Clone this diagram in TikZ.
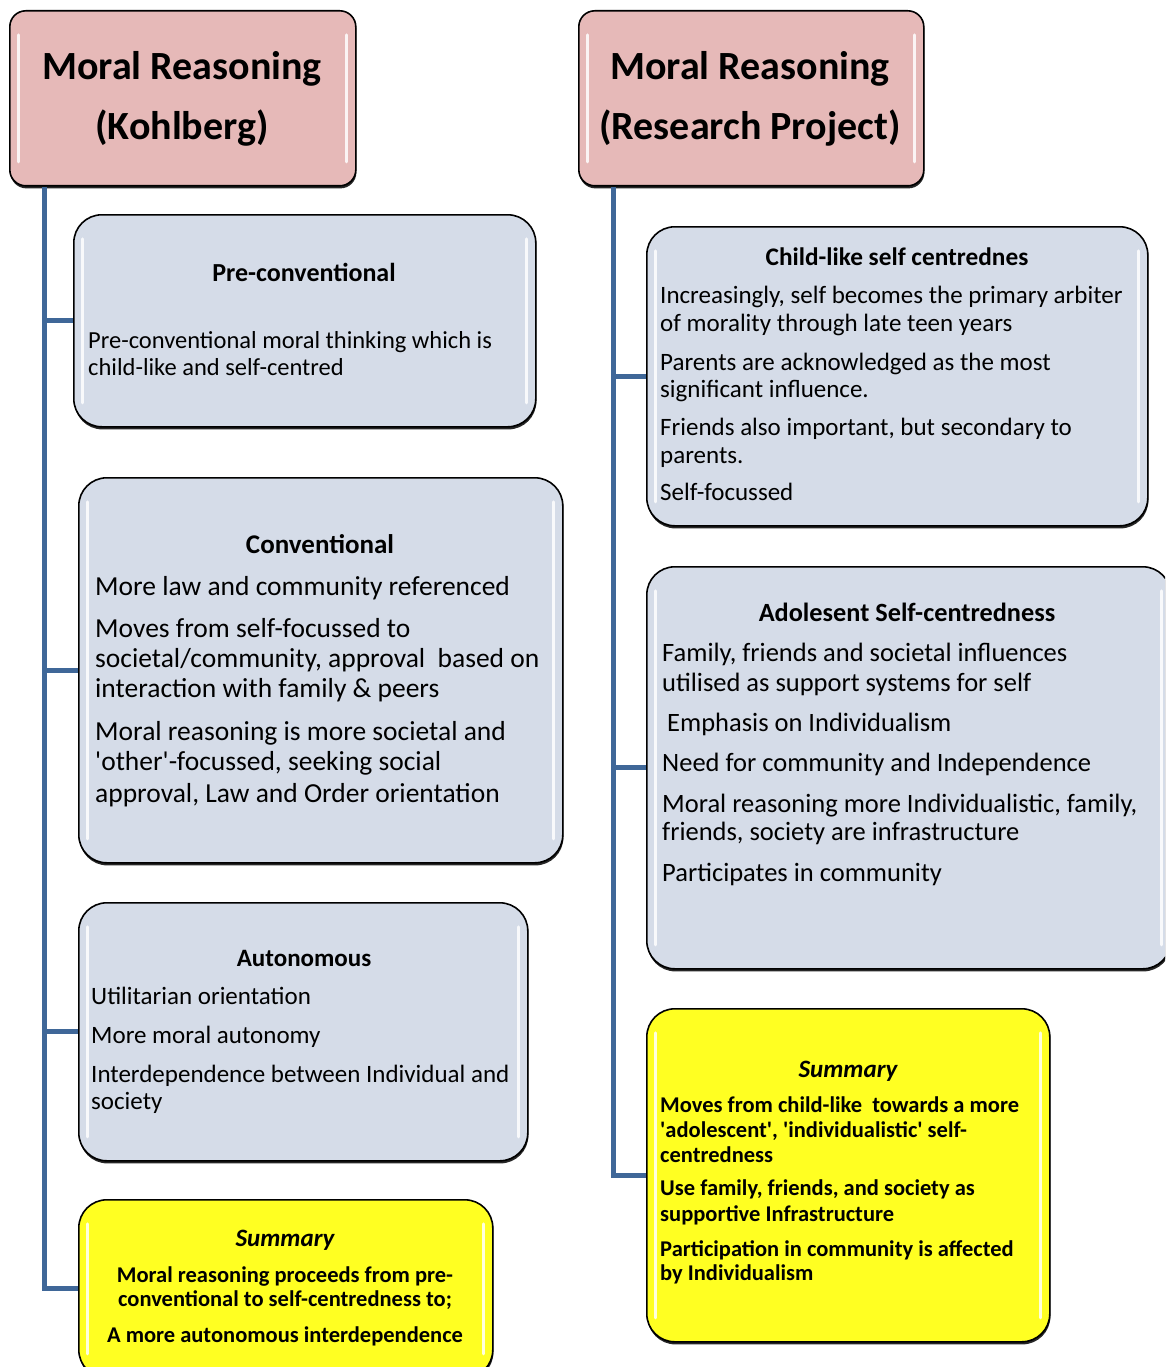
\documentclass[tikz,border=0pt]{standalone}
\usepackage{fontspec}
\setmainfont{Carlito}
\usetikzlibrary{shadows,calc}

\definecolor{titlepink}{RGB}{230,185,184}
\definecolor{stagegrey}{RGB}{213,220,232}
\definecolor{summaryyellow}{RGB}{255,255,34}
\definecolor{trunkblue}{RGB}{63,103,152}

\tikzset{
  panel/.style={rectangle, draw=black, line width=1.6pt, rounded corners=#1,
    anchor=north west, inner sep=0pt,
    drop shadow={shadow xshift=0.6pt, shadow yshift=-2.6pt, fill=black, opacity=0.85},
    path picture={
      \draw[white, line width=3pt, opacity=0.85, line cap=round]
        ([xshift=9pt,yshift=-24pt]path picture bounding box.north west) --
        ([xshift=9pt,yshift=24pt]path picture bounding box.south west);
      \draw[white, line width=3pt, opacity=0.85, line cap=round]
        ([xshift=-9pt,yshift=-24pt]path picture bounding box.north east) --
        ([xshift=-9pt,yshift=24pt]path picture bounding box.south east);
    }},
  titlebox/.style={panel=16pt, fill=titlepink},
  stagebox/.style={panel=28pt, fill=stagegrey},
  sumbox/.style={panel=28pt, fill=summaryyellow},
  trunk/.style={draw=trunkblue, line width=5pt},
  titletext/.style={anchor=base, inner sep=0pt, font=\bfseries\fontsize{40}{48}\selectfont},
  headtext/.style={anchor=base, inner sep=0pt, font=\bfseries\fontsize{#1}{#1}\selectfont},
  sumhead/.style={anchor=base, inner sep=0pt, font=\bfseries\itshape\fontsize{25}{25}\selectfont},
  bodytext/.style={anchor=base west, inner sep=0pt, font=\fontsize{#1}{#1}\selectfont},
  sumtext/.style={anchor=base west, inner sep=0pt, font=\bfseries\fontsize{22.5}{22.5}\selectfont},
  sumtextc/.style={anchor=base, inner sep=0pt, font=\bfseries\fontsize{22.5}{22.5}\selectfont},
}

\begin{document}
\begin{tikzpicture}[x=1pt, y=-1pt]
\useasboundingbox (0,0) rectangle (1165,1367);
\clip (0,0) rectangle (1165,1367);

% ---------- left column: Kohlberg ----------
\node[titlebox, minimum width=346pt, minimum height=175pt] (tl) at (9,10) {};
\node[titletext] (tl1) at (182,80) {Moral Reasoning};
\node[titletext] (tl2) at (182,140) {(Kohlberg)};

\node[stagebox, minimum width=462pt, minimum height=212pt] (pre) at (73,214) {};
\node[headtext=26] (preh) at (304,281) {Pre-conventional};
\node[bodytext=24.5] (pre1) at (88,348) {Pre-conventional moral thinking which is};
\node[bodytext=24.5] (pre2) at (88,375) {child-like and self-centred};

\node[stagebox, minimum width=484pt, minimum height=385pt] (conv) at (78,477) {};
\node[headtext=27] (convh) at (320,553) {Conventional};
\node[bodytext=27.5] (conv1) at (95,595) {More law and community referenced};
\node[bodytext=27.5] (conv2) at (95,637) {Moves from self-focussed to};
\node[bodytext=27.5] (conv3) at (95,667) {societal/community, approval\ \ based on};
\node[bodytext=27.5] (conv4) at (95,697) {interaction with family \& peers};
\node[bodytext=27.5] (conv5) at (95,740) {Moral reasoning is more societal and};
\node[bodytext=27.5] (conv6) at (95,770) {\textquotesingle other\textquotesingle-focussed, seeking social};
\node[bodytext=27.5] (conv7) at (95,802) {approval, Law and Order orientation};

\node[stagebox, minimum width=449pt, minimum height=258pt] (auto) at (78,902) {};
\node[headtext=25] (autoh) at (304,966) {Autonomous};
\node[bodytext=25] (auto1) at (91,1004) {Utilitarian orientation};
\node[bodytext=25] (auto2) at (91,1043) {More moral autonomy};
\node[bodytext=25] (auto3) at (91,1082) {Interdependence between Individual and};
\node[bodytext=25] (auto4) at (91,1109) {society};

\node[sumbox, minimum width=414pt, minimum height=178pt] (suml) at (78,1199) {};
\node[sumhead] (sumlh) at (285,1246) {Summary};
\node[sumtextc] (suml1) at (285,1282) {Moral reasoning proceeds from pre-};
\node[sumtextc] (suml2) at (285,1306) {conventional to self-centredness to;};
\node[sumtextc] (suml3) at (285,1342) {A more autonomous interdependence};

% ---------- right column: research project ----------
\node[titlebox, minimum width=345pt, minimum height=175pt] (tr) at (578,10) {};
\node[titletext] (tr1) at (750,80) {Moral Reasoning};
\node[titletext] (tr2) at (750,140) {(Research Project)};

\node[stagebox, minimum width=501pt, minimum height=299pt] (child) at (646,226) {};
\node[headtext=25.3] (childh) at (897,265) {Child-like self centrednes};
\node[bodytext=25] (child1) at (660,303) {Increasingly, self becomes the primary arbiter};
\node[bodytext=25] (child2) at (660,331) {of morality through late teen years};
\node[bodytext=25] (child3) at (660,370) {Parents are acknowledged as the most};
\node[bodytext=25] (child4) at (660,397) {significant influence.};
\node[bodytext=25] (child5) at (660,435) {Friends also important, but secondary to};
\node[bodytext=25] (child6) at (660,463) {parents.};
\node[bodytext=25] (child7) at (660,500) {Self-focussed};

\node[stagebox, minimum width=524pt, minimum height=402pt] (adol) at (646,566) {};
\node[headtext=26.3] (adolh) at (907,621) {Adolesent Self-centredness};
\node[bodytext=26.5] (adol1) at (662,661) {Family, friends and societal influences};
\node[bodytext=26.5] (adol2) at (662,691) {utilised as support systems for self};
\node[bodytext=26.5] (adol3) at (667,731) {Emphasis on Individualism};
\node[bodytext=26.5] (adol4) at (662,771) {Need for community and Independence};
\node[bodytext=26.5] (adol5) at (662,812) {Moral reasoning more Individualistic, family,};
\node[bodytext=26.5] (adol6) at (662,840) {friends, society are infrastructure};
\node[bodytext=26.5] (adol7) at (662,881) {Participates in community};

\node[sumbox, minimum width=403pt, minimum height=333pt] (sumr) at (646,1008) {};
\node[sumhead] (sumrh) at (848,1077) {Summary};
\node[sumtext] (sumr1) at (660,1112) {Moves from child-like\ \ towards a more};
\node[sumtext] (sumr2) at (660,1137) {\textquotesingle adolescent\textquotesingle, \textquotesingle individualistic\textquotesingle\ self-};
\node[sumtext] (sumr3) at (660,1162) {centredness};
\node[sumtext] (sumr4) at (660,1195) {Use family, friends, and society as};
\node[sumtext] (sumr5) at (660,1221) {supportive Infrastructure};
\node[sumtext] (sumr6) at (660,1256) {Participation in community is affected};
\node[sumtext] (sumr7) at (660,1280) {by Individualism};

% ---------- connectors ----------
\coordinate (lroot) at ($(tl.south west)+(35,0)$);
\coordinate (rroot) at ($(tr.south west)+(35,0)$);

\draw[trunk] (lroot) |- (suml.west);
\draw[trunk] (lroot |- pre.west) -- (pre.west);
\draw[trunk] (lroot |- conv.west) -- (conv.west);
\draw[trunk] (lroot |- auto.west) -- (auto.west);

\draw[trunk] (rroot) |- (sumr.west);
\draw[trunk] (rroot |- child.west) -- (child.west);
\draw[trunk] (rroot |- adol.west) -- (adol.west);
\end{tikzpicture}
\end{document}
